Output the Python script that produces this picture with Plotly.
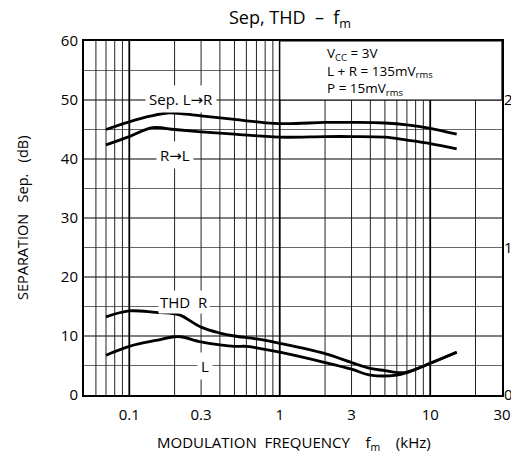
import numpy as np
import plotly.graph_objects as go

# Modulation frequency (kHz) sample points for each curve
freq_sep_lr = [0.07, 0.1, 0.14, 0.18, 0.22, 0.3, 0.5, 1, 2, 3, 5, 7, 10, 15]
sep_lr = [45.0, 46.3, 47.3, 47.8, 47.7, 47.3, 46.7, 46.0, 46.2, 46.2, 46.1, 45.8, 45.2, 44.2]

freq_sep_rl = [0.07, 0.1, 0.143, 0.2, 0.3, 0.5, 1, 2, 3, 5, 7, 10, 15]
sep_rl = [42.4, 43.8, 45.3, 45.0, 44.6, 44.2, 43.7, 43.8, 43.8, 43.7, 43.2, 42.6, 41.7]

# THD (%) read on the right-hand axis
freq_thd_r = [0.07, 0.1, 0.15, 0.2, 0.22, 0.3, 0.4, 0.5, 0.7, 1, 2, 3, 4, 5, 6, 7, 8, 10, 15]
thd_r = [0.53, 0.57, 0.56, 0.55, 0.54, 0.46, 0.42, 0.40, 0.38, 0.35, 0.28, 0.22,
         0.18, 0.165, 0.152, 0.155, 0.175, 0.215, 0.29]

freq_thd_l = [0.07, 0.1, 0.15, 0.2, 0.22, 0.3, 0.4, 0.5, 0.6, 0.7, 1, 2, 3, 4, 6, 7, 10, 15]
thd_l = [0.27, 0.33, 0.37, 0.395, 0.395, 0.36, 0.34, 0.33, 0.33, 0.32, 0.29, 0.22,
         0.175, 0.135, 0.135, 0.152, 0.215, 0.29]

x_ticks = [0.1, 0.3, 1, 3, 10, 30]
x_tick_text = ["0.1", "0.3", "1", "3", "10", "30"]
y_ticks = [0, 10, 20, 30, 40, 50, 60]
thd_ticks = [0, 1, 2]

# log grid lines
grid_minor_x = [0.06, 0.07, 0.08, 0.09, 0.2, 0.3, 0.4, 0.5, 0.6, 0.7, 0.8, 0.9,
                2, 3, 4, 5, 6, 7, 8, 9, 20]
grid_major_x = [0.1, 1, 10]
grid_y_major = [10, 20, 30, 40, 50]
grid_y_minor = [5, 15, 25, 35, 45, 55]

X_MIN, X_MAX = 0.05, 30
Y_MIN, Y_MAX = 0, 60

FONT = "Open Sans, DejaVu Sans, sans-serif"

fig = go.Figure()

line_style = dict(color="black", width=2.8, shape="spline", smoothing=1.0)
fig.add_trace(go.Scatter(x=freq_sep_lr, y=sep_lr, mode="lines", line=line_style, hoverinfo="skip"))
fig.add_trace(go.Scatter(x=freq_sep_rl, y=sep_rl, mode="lines", line=line_style, hoverinfo="skip"))
fig.add_trace(go.Scatter(x=freq_thd_r, y=thd_r, mode="lines", line=line_style, yaxis="y2", hoverinfo="skip"))
fig.add_trace(go.Scatter(x=freq_thd_l, y=thd_l, mode="lines", line=line_style, yaxis="y2", hoverinfo="skip"))

shapes = []
for gx in grid_minor_x:
    shapes.append(dict(type="line", xref="x", yref="y", x0=gx, x1=gx, y0=Y_MIN, y1=Y_MAX,
                       line=dict(color="#222", width=1), layer="below"))
for gx in grid_major_x:
    shapes.append(dict(type="line", xref="x", yref="y", x0=gx, x1=gx, y0=Y_MIN, y1=Y_MAX,
                       line=dict(color="black", width=1.8), layer="below"))
for gy in grid_y_minor:
    shapes.append(dict(type="line", xref="paper", yref="y", x0=0, x1=1, y0=gy, y1=gy,
                       line=dict(color="#666", width=1), layer="below"))
for gy in grid_y_major:
    shapes.append(dict(type="line", xref="paper", yref="y", x0=0, x1=1, y0=gy, y1=gy,
                       line=dict(color="black", width=1.2), layer="below"))
# blank condition box in the upper right corner
shapes.append(dict(type="rect", xref="x", yref="y", x0=1, x1=X_MAX, y0=50, y1=Y_MAX,
                   fillcolor="white", line=dict(color="black", width=1.2), layer="below"))

annotations = []

def curve_label(text, x, y, pad=3):
    annotations.append(dict(text=text, x=np.log10(x), y=y, xref="x", yref="y",
                            showarrow=False, bgcolor="white", borderpad=pad,
                            font=dict(family=FONT, size=15, color="black")))

curve_label("Sep. L\u2192R", 0.22, 50.2)
curve_label("R\u2192L", 0.2, 40.6)
curve_label("THD  R", 0.23, 15.8, pad=1)
curve_label("L", 0.32, 5)

conditions = ["V<sub>CC</sub> = 3V", "L + R = 135mV<sub>rms</sub>", "P = 15mV<sub>rms</sub>"]
annotations.append(dict(text="<br>".join(conditions), x=np.log10(2.0), y=59.9,
                        xref="x", yref="y", xanchor="left", yanchor="top", align="left",
                        showarrow=False,
                        font=dict(family=FONT, size=13.5, color="black")))

annotations.append(dict(text="SEPARATION   Sep.   (dB)", x=(22 - 84) / 418, y=0.5,
                        xref="paper", yref="paper", xanchor="center", yanchor="middle",
                        textangle=-90, showarrow=False,
                        font=dict(family=FONT, size=14.5, color="black")))
annotations.append(dict(text="MODULATION  FREQUENCY    f<sub>m</sub>    (kHz)", x=(294 - 84) / 418,
                        y=-(443 - 395) / 354, xref="paper", yref="paper", showarrow=False,
                        xanchor="center", yanchor="middle",
                        font=dict(family=FONT, size=15, color="black")))

fig.update_layout(
    width=511, height=455,
    margin=dict(l=84, r=9, t=41, b=60),
    paper_bgcolor="white", plot_bgcolor="white",
    showlegend=False,
    title=dict(text="Sep, THD  \u2013  f<sub>m</sub>", x=290 / 511, y=1 - 18 / 455,
               xanchor="center", yanchor="middle",
               font=dict(family=FONT, size=18, color="black")),
    xaxis=dict(type="log", range=[np.log10(X_MIN), np.log10(X_MAX)],
               tickvals=x_ticks, ticktext=x_tick_text, showgrid=False, zeroline=False,
               showline=True, linecolor="black", linewidth=2, mirror=True, ticks="",
               ticklabelstandoff=5, automargin=False,
               tickfont=dict(family=FONT, size=15, color="black")),
    yaxis=dict(range=[Y_MIN, Y_MAX], tickvals=y_ticks, showgrid=False, zeroline=False,
               showline=True, linecolor="black", linewidth=2, mirror=True, ticks="",
               ticklabelstandoff=1, automargin=False,
               tickfont=dict(family=FONT, size=15, color="black")),
    yaxis2=dict(range=[0, 2.4], tickvals=thd_ticks, overlaying="y", side="right",
                showgrid=False, zeroline=False, showline=False, ticks="",
                ticklabelstandoff=1, automargin=False,
                tickfont=dict(family=FONT, size=15, color="black")),
    shapes=shapes,
    annotations=annotations,
)

fig.write_html("out.html")
